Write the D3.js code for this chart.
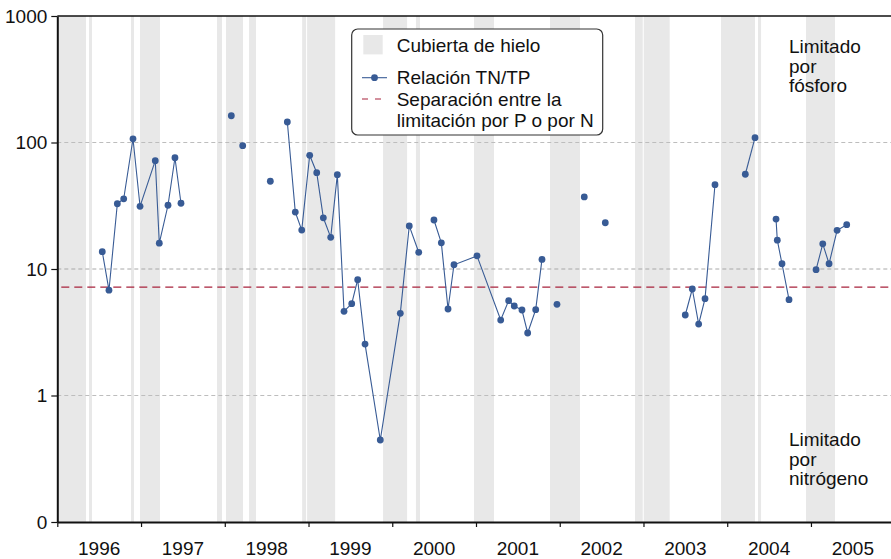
<!DOCTYPE html>
<html>
<head>
<meta charset="utf-8">
<script src="https://cdn.jsdelivr.net/npm/d3@7"></script>
<style>
  body { margin: 0; background: #fff; }
  svg { display: block; font-family: "Liberation Sans", Arial, Helvetica, sans-serif; }
</style>
</head>
<body>
<svg id="chart" width="891" height="559"></svg>
<script>
// Sampling dates (decimal years) and TN/TP mass ratio
const sampleYears = [
  1996.537, 1996.617, 1996.717, 1996.793, 1996.904, 1996.988, 1997.170, 1997.218, 1997.322, 1997.405, 1997.477,
  1998.078,
  1998.214,
  1998.544,
  1998.747, 1998.842, 1998.919, 1999.014, 1999.098, 1999.177, 1999.265, 1999.344, 1999.424, 1999.516, 1999.587, 1999.675, 1999.857, 2000.096, 2000.203, 2000.316,
  2000.498, 2000.586, 2000.666, 2000.737, 2001.012, 2001.295, 2001.390, 2001.457, 2001.549, 2001.617, 2001.713, 2001.788,
  2001.967,
  2002.293,
  2002.544,
  2003.499, 2003.583, 2003.659, 2003.735, 2003.854,
  2004.216, 2004.332,
  2004.583, 2004.598, 2004.654, 2004.738,
  2005.061, 2005.141, 2005.216, 2005.312, 2005.427
];
const tnTpRatio = [
  13.7, 6.8, 32.8, 35.9, 107, 31.3, 71.8, 16.0, 31.9, 75.8, 33.1,
  162.8,
  94.3,
  49.4,
  145.2, 28.2, 20.3, 79.2, 57.7, 25.4, 17.8, 55.7, 4.63, 5.32, 8.23, 2.55, 0.445, 4.46, 21.9, 13.55,
  24.4, 16.1, 4.83, 10.8, 12.7, 3.95, 5.62, 5.10, 4.74, 3.12, 4.77, 11.9,
  5.26,
  37.1,
  23.2,
  4.33, 6.95, 3.67, 5.83, 46.4,
  56.1, 109.1,
  24.8, 16.9, 11.0, 5.72,
  9.87, 15.8, 11.0, 20.2, 22.4
];
// Consecutive samples sharing a run id are joined by a line
const runIds = [
  0,0,0,0,0,0,0,0,0,0,0,
  1,
  2,
  3,
  4,4,4,4,4,4,4,4,4,4,4,4,4,4,4,4,
  5,5,5,5,5,5,5,5,5,5,5,5,
  6,
  7,
  8,
  9,9,9,9,9,
  10,10,
  11,11,11,11,
  12,12,12,12,12
];

// Ice-cover periods (decimal years)
const iceStart = [1996.0, 1996.379, 1996.880, 1996.988, 1997.907, 1998.015, 1998.290, 1998.924, 1998.983,
                  1999.890, 2000.283, 2000.976, 2001.884, 2002.899, 2003.003, 2003.926, 2004.368, 2004.941];
const iceEnd   = [1996.343, 1996.414, 1996.916, 1997.226, 1997.967, 1998.218, 1998.373, 1998.971, 1999.318,
                  2000.177, 2000.331, 2001.215, 2002.242, 2002.991, 2003.313, 2004.332, 2004.404, 2005.287];

const yearTicks = [1996, 1997, 1998, 1999, 2000, 2001, 2002, 2003, 2004, 2005];
const ratioTicks = [0.1, 1, 10, 100, 1000];
const ratioTickLabels = ["0", "1", "10", "100", "1000"];
const gridValues = [1, 10, 100];
const thresholdRatio = 7.2;

const plotLeft = 57.3, plotTop = 16, plotBottom = 522, plotRight = 891;

const svg = d3.select("#chart");
const x = d3.scaleLinear().domain([1996, 2006]).range([plotLeft, plotLeft + 10 * 83.74]);
const y = d3.scaleLog().domain([0.1, 1000]).range([plotBottom, plotTop]);

svg.append("defs").append("clipPath").attr("id", "plot")
  .append("rect").attr("x", plotLeft).attr("y", plotTop)
  .attr("width", plotRight - plotLeft).attr("height", plotBottom - plotTop);

const plot = svg.append("g").attr("clip-path", "url(#plot)");

// Ice-cover bands
plot.append("g").selectAll("rect")
  .data(iceStart.map((s, i) => [s, iceEnd[i]]))
  .join("rect")
  .attr("x", d => x(d[0]))
  .attr("width", d => x(d[1]) - x(d[0]))
  .attr("y", plotTop)
  .attr("height", plotBottom - plotTop)
  .attr("fill", "#e8e8e8");

// Horizontal reference grid
plot.append("g").selectAll("line")
  .data(gridValues)
  .join("line")
  .attr("x1", plotLeft).attr("x2", plotRight)
  .attr("y1", d => y(d)).attr("y2", d => y(d))
  .attr("stroke", d => d === 10 ? "#a8a8a8" : "#bdbdbd")
  .attr("stroke-width", 1)
  .attr("stroke-dasharray", "4,3");

// P / N limitation threshold
plot.append("line")
  .attr("x1", plotLeft + 4).attr("x2", plotRight)
  .attr("y1", y(thresholdRatio)).attr("y2", y(thresholdRatio))
  .attr("stroke", "#a8233c")
  .attr("stroke-width", 1.2)
  .attr("stroke-dasharray", "8,5");

// TN/TP series
const pts = sampleYears.map((t, i) => ({ t, v: tnTpRatio[i], run: runIds[i] }));
const runs = d3.groups(pts, d => d.run);
const line = d3.line().x(d => x(d.t)).y(d => y(d.v));
const blue = "#385b95";

plot.append("g").selectAll("path")
  .data(runs.filter(r => r[1].length > 1))
  .join("path")
  .attr("d", r => line(r[1]))
  .attr("fill", "none")
  .attr("stroke", blue)
  .attr("stroke-width", 1.1);

plot.append("g").selectAll("circle")
  .data(pts)
  .join("circle")
  .attr("cx", d => x(d.t))
  .attr("cy", d => y(d.v))
  .attr("r", 3.4)
  .attr("fill", blue);

// Axes
const yAxis = svg.append("g")
  .attr("transform", `translate(${plotLeft},0)`)
  .call(d3.axisLeft(y).tickValues(ratioTicks).tickFormat((d, i) => ratioTickLabels[i])
    .tickSize(6).tickSizeOuter(0).tickPadding(4));
yAxis.select(".domain").attr("stroke", "#111").attr("stroke-width", 2);
yAxis.selectAll(".tick line").attr("stroke", "#111").attr("stroke-width", 1.2);
yAxis.selectAll(".tick text").attr("font-size", 19).attr("fill", "#111")
  .attr("font-family", "Liberation Sans, Arial, sans-serif");

const xAxis = svg.append("g")
  .attr("transform", `translate(0,${plotBottom})`)
  .call(d3.axisBottom(x).tickValues(yearTicks).tickFormat("").tickSize(5).tickSizeOuter(0));
xAxis.select(".domain").attr("stroke", "#111").attr("stroke-width", 2);
xAxis.selectAll(".tick line").attr("stroke", "#111").attr("stroke-width", 1.2);

svg.append("g").selectAll("text")
  .data(yearTicks)
  .join("text")
  .attr("x", d => x(d + 0.5))
  .attr("y", 555)
  .attr("text-anchor", "middle")
  .attr("font-size", 19)
  .attr("fill", "#111")
  .text(d => d);

// Top frame line
svg.append("line")
  .attr("x1", plotLeft).attr("x2", plotRight)
  .attr("y1", plotTop).attr("y2", plotTop)
  .attr("stroke", "#111").attr("stroke-width", 1.5);

// Legend
const lg = svg.append("g");
lg.append("rect")
  .attr("x", 351.7).attr("y", 29).attr("width", 251).attr("height", 106)
  .attr("rx", 6).attr("fill", "#fff").attr("stroke", "#333").attr("stroke-width", 1.2);
lg.append("rect")
  .attr("x", 363.3).attr("y", 35).attr("width", 19.4).attr("height", 19.4)
  .attr("fill", "#e8e8e8");
lg.append("line")
  .attr("x1", 362).attr("x2", 387).attr("y1", 77.7).attr("y2", 77.7)
  .attr("stroke", blue).attr("stroke-width", 1.1);
lg.append("circle").attr("cx", 374.5).attr("cy", 77.7).attr("r", 3.4).attr("fill", blue);
lg.append("line")
  .attr("x1", 362).attr("x2", 387).attr("y1", 99).attr("y2", 99)
  .attr("stroke", "#a8233c").attr("stroke-width", 1.2).attr("stroke-dasharray", "6,7");

const legendText = [
  ["Cubierta de hielo", 51.7],
  ["Relación TN/TP", 84.3],
  ["Separación entre la", 106],
  ["limitación por P o por N", 126.7]
];
lg.selectAll("text.lab")
  .data(legendText)
  .join("text")
  .attr("class", "lab")
  .attr("x", 396.7)
  .attr("y", d => d[1])
  .attr("font-size", 19)
  .attr("fill", "#111")
  .text(d => d[0]);

// Region annotations
function stacked(lines, x0, y0, dy) {
  const t = svg.append("text").attr("x", x0).attr("y", y0).attr("font-size", 19).attr("fill", "#111");
  lines.forEach((s, i) => {
    t.append("tspan").attr("x", x0).attr("y", y0 + i * dy).text(s);
  });
}
stacked(["Limitado", "por", "fósforo"], 789, 53.3, 19.2);
stacked(["Limitado", "por", "nitrógeno"], 789, 446, 19.5);
</script>
</body>
</html>
